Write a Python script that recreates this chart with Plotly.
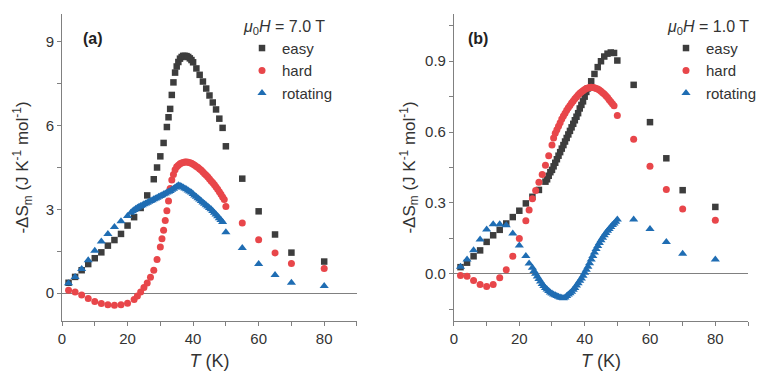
import plotly.graph_objects as go

# ---------------- data: panel (a), mu0H = 7.0 T ----------------
EASY_A_T = [2, 4, 6, 8, 10, 12, 14, 16, 18, 20,
            22, 24, 26, 28, 29, 30, 31, 32, 32.5, 33,
            33.5, 34, 34.5, 35, 35.5, 36, 36.5, 37, 37.5, 38,
            38.5, 39, 39.5, 40, 41, 42, 43, 44, 45, 46,
            47, 48, 49, 50, 55, 60, 65, 70, 80]
EASY_A = [0.37, 0.58, 0.82, 1.04, 1.25, 1.46, 1.70, 1.90, 2.12, 2.42,
          2.72, 3.05, 3.5, 4.08, 4.5, 4.9, 5.38, 5.95, 6.3, 6.6,
          7.1, 7.55, 7.9, 8.12, 8.28, 8.4, 8.46, 8.5, 8.5, 8.49,
          8.46, 8.41, 8.35, 8.27, 8.05, 7.82, 7.58, 7.33, 7.08, 6.83,
          6.58, 6.25, 5.92, 5.26, 4.1, 2.93, 2.1, 1.45, 1.13]

HARD_A_T = [2, 4, 6, 8, 10, 12, 14, 16, 18, 20,
            22, 23, 24, 25, 26, 27, 28, 29, 30, 30.5,
            31, 31.5, 32, 32.5, 33, 33.5, 34, 34.5, 35, 35.5,
            36, 36.5, 37, 37.5, 38, 38.5, 39, 39.5, 40, 40.5,
            41, 41.5, 42, 42.5, 43, 43.5, 44, 44.5, 45, 45.5,
            46, 46.5, 47, 47.5, 48, 48.5, 49, 49.5, 50, 55,
            60, 65, 70, 80]
HARD_A = [0.1, 0.04, -0.07, -0.19, -0.3, -0.37, -0.42, -0.44, -0.42, -0.36,
          -0.23, -0.1, 0.04, 0.2, 0.36, 0.57, 0.82, 1.2, 1.65, 1.95,
          2.25, 2.6, 2.95, 3.3, 3.75, 4.05, 4.25, 4.42, 4.53, 4.58,
          4.63, 4.66, 4.68, 4.7, 4.7, 4.69, 4.67, 4.65, 4.62, 4.58,
          4.54, 4.5, 4.45, 4.4, 4.34, 4.28, 4.22, 4.16, 4.09, 4.02,
          3.95, 3.88, 3.8, 3.72, 3.63, 3.54, 3.44, 3.35, 3.1, 2.51,
          1.91, 1.44, 1.06, 0.88]

ROT_A_T = [2, 4, 6, 8, 10, 12, 14, 16, 18, 20,
           21, 21.5, 22, 22.5, 23, 23.5, 24, 24.5, 25, 25.5,
           26, 26.5, 27, 27.5, 28, 28.5, 29, 29.5, 30, 30.5,
           31, 31.5, 32, 32.5, 33, 33.5, 34, 34.5, 35, 35.5,
           36, 36.5, 37, 37.5, 38, 38.5, 39, 39.5, 40, 40.5,
           41, 41.5, 42, 42.5, 43, 43.5, 44, 44.5, 45, 45.5,
           46, 46.5, 47, 47.5, 48, 48.5, 49, 50, 55, 60,
           65, 70, 80]
ROT_A = [0.35, 0.58, 0.86, 1.18, 1.52, 1.85, 2.12, 2.37, 2.57, 2.76,
         2.88, 2.93, 2.98, 3.02, 3.06, 3.09, 3.12, 3.15, 3.18, 3.21,
         3.24, 3.27, 3.3, 3.33, 3.36, 3.39, 3.42, 3.45, 3.48, 3.51,
         3.54, 3.57, 3.6, 3.63, 3.66, 3.7, 3.74, 3.78, 3.82, 3.86,
         3.85, 3.82, 3.78, 3.75, 3.72, 3.68, 3.64, 3.6, 3.55, 3.5,
         3.45, 3.4, 3.35, 3.3, 3.25, 3.2, 3.15, 3.1, 3.05, 3.0,
         2.94, 2.88, 2.82, 2.75, 2.68, 2.62, 2.55, 2.18, 1.62, 1.04,
         0.65, 0.37, 0.25]

# ---------------- data: panel (b), mu0H = 1.0 T ----------------
EASY_B_T = [2, 4, 6, 8, 10, 12, 14, 16, 18, 20,
            22, 24, 26, 28, 28.5, 29, 29.5, 30, 30.5, 31,
            31.5, 32, 32.5, 33, 33.5, 34, 34.5, 35, 35.5, 36,
            36.5, 37, 37.5, 38, 38.5, 39, 39.5, 40, 40.5, 41,
            42, 43, 44, 45, 46, 47, 48, 49, 50, 55,
            60, 65, 70, 80]
EASY_B = [0.028, 0.047, 0.074, 0.099, 0.135, 0.163, 0.186, 0.213, 0.24, 0.267,
          0.298, 0.326, 0.355, 0.39, 0.40, 0.415, 0.43, 0.44, 0.455, 0.47,
          0.485, 0.50, 0.515, 0.53, 0.545, 0.56, 0.575, 0.59, 0.605, 0.62,
          0.635, 0.65, 0.665, 0.68, 0.70, 0.715, 0.73, 0.75, 0.77, 0.785,
          0.815, 0.846, 0.875, 0.9, 0.92, 0.932, 0.937, 0.935, 0.903, 0.80,
          0.642, 0.489, 0.354, 0.283]

HARD_B_T = [2, 4, 6, 8, 10, 12, 14, 16, 18, 20,
            22, 23, 24, 25, 26, 27, 28, 29, 30, 30.5,
            31, 31.5, 32, 32.5, 33, 33.5, 34, 34.5, 35, 35.5,
            36, 36.5, 37, 37.5, 38, 38.5, 39, 39.5, 40, 40.5,
            41, 41.5, 42, 42.5, 43, 43.5, 44, 44.5, 45, 45.5,
            46, 46.5, 47, 47.5, 48, 48.5, 49, 50, 55, 60,
            65, 70, 80]
HARD_B = [-0.007, -0.011, -0.028, -0.045, -0.054, -0.045, -0.017, 0.017, 0.074, 0.149,
          0.224, 0.27, 0.318, 0.353, 0.388, 0.42, 0.46, 0.5, 0.545, 0.575,
          0.595, 0.61, 0.625, 0.64, 0.655, 0.668, 0.68, 0.692, 0.703, 0.713,
          0.723, 0.732, 0.741, 0.749, 0.757, 0.764, 0.77, 0.775, 0.78, 0.784,
          0.787, 0.789, 0.79, 0.789, 0.788, 0.785, 0.782, 0.778, 0.773, 0.767,
          0.761, 0.754, 0.746, 0.737, 0.728, 0.72, 0.712, 0.67, 0.57, 0.455,
          0.357, 0.274, 0.227]

ROT_B_T = [2, 4, 6, 8, 10, 12, 14, 16, 18, 20,
           22, 23, 24, 24.5, 25, 25.5, 26, 26.5, 27, 27.5,
           28, 28.5, 29, 29.5, 30, 30.5, 31, 31.5, 32, 32.5,
           33, 33.5, 34, 34.5, 35, 35.5, 36, 36.5, 37, 37.5,
           38, 38.5, 39, 39.5, 40, 40.5, 41, 41.5, 42, 42.5,
           43, 43.5, 44, 44.5, 45, 45.5, 46, 46.5, 47, 47.5,
           48, 48.5, 49, 49.5, 50, 55, 60, 65, 70, 80]
ROT_B = [0.03, 0.06, 0.10, 0.145, 0.187, 0.21, 0.21, 0.205, 0.17, 0.12,
         0.075, 0.043, 0.025, 0.012, 0.0, -0.012, -0.022, -0.033, -0.043, -0.052,
         -0.06, -0.067, -0.073, -0.079, -0.084, -0.088, -0.091, -0.094, -0.097, -0.1,
         -0.102, -0.104, -0.1, -0.094, -0.088, -0.082, -0.076, -0.068, -0.06, -0.05,
         -0.04, -0.03, -0.02, -0.008, 0.004, 0.017, 0.03, 0.045, 0.06, 0.075,
         0.09, 0.105, 0.118, 0.13, 0.142, 0.153, 0.163, 0.173, 0.182, 0.19,
         0.198, 0.206, 0.213, 0.22, 0.23, 0.23, 0.19, 0.135, 0.085, 0.06]

SERIES_NAMES = ["easy", "hard", "rotating"]
FIELD_LABELS = ["<i>μ</i><sub>0</sub><i>H</i> = 7.0 T", "<i>μ</i><sub>0</sub><i>H</i> = 1.0 T"]
PANEL_LABELS = ["(a)", "(b)"]

# ---------------- styling ----------------
COLORS = ["#3d3d3d", "#e8464a", "#1f6db3"]
SYMBOLS = ["square", "circle", "triangle-up"]
SIZES = [6.5, 7, 8]
FONT = "Liberation Sans, Arial, sans-serif"
AXC = "#808080"
TXT = "#333333"

fig = go.Figure()

panels = [
    [(EASY_A_T, EASY_A), (HARD_A_T, HARD_A), (ROT_A_T, ROT_A)],
    [(EASY_B_T, EASY_B), (HARD_B_T, HARD_B), (ROT_B_T, ROT_B)],
]
for p, series in enumerate(panels):
    xa = "x" if p == 0 else "x2"
    ya = "y" if p == 0 else "y2"
    lg = "legend" if p == 0 else "legend2"
    for s, (xs, ys) in enumerate(series):
        fig.add_trace(go.Scatter(
            x=xs, y=ys, mode="markers", name=SERIES_NAMES[s],
            xaxis=xa, yaxis=ya, legend=lg,
            marker=dict(symbol=SYMBOLS[s], size=SIZES[s], color=COLORS[s],
                        line=dict(width=0)),
        ))

W, H = 765, 375
ML, MR, MT, MB = 62, 17, 14, 54
PW, PH = W - ML - MR, H - MT - MB

def px_x(x):
    return (x - ML) / PW

def px_y(y):
    return 1 - (y - MT) / PH

def xaxis(domain, anchor):
    return dict(
        domain=domain, anchor=anchor, range=[0, 90], dtick=20, tick0=0,
        showgrid=False, zeroline=False, showline=True, linecolor=AXC, linewidth=1,
        ticks="outside", ticklen=4, tickcolor=AXC,
        minor=dict(dtick=10, ticks="outside", ticklen=4, tickcolor=AXC, showgrid=False),
        tickfont=dict(family=FONT, size=15, color=TXT),
        title=dict(text="<i>T</i> (K)", font=dict(family=FONT, size=18, color=TXT), standoff=8),
    )

def yaxis(anchor, rng, dt, fmt, standoff):
    return dict(
        domain=[0, 1], anchor=anchor, range=rng, dtick=dt, tick0=0,
        showgrid=False, zeroline=True, zerolinecolor=AXC, zerolinewidth=1,
        showline=True, linecolor=AXC, linewidth=1,
        ticks="outside", ticklen=4, tickcolor=AXC,
        minor=dict(dtick=dt / 2, ticks="outside", ticklen=4, tickcolor=AXC, showgrid=False),
        tickformat=fmt,
        tickfont=dict(family=FONT, size=15, color=TXT),
        title=dict(text="-ΔS<sub>m</sub> (J K<sup>-1</sup> mol<sup>-1</sup>)",
                   font=dict(family=FONT, size=17, color=TXT), standoff=standoff),
    )

def legend(xpix, anchor, title):
    return dict(
        xref="paper", yref="paper", x=px_x(xpix), y=px_y(11),
        xanchor=anchor, yanchor="top", bgcolor="rgba(0,0,0,0)",
        font=dict(family=FONT, size=15, color=TXT),
        title=dict(text=title, font=dict(family=FONT, size=16, color=TXT)),
        tracegroupgap=0,
    )

fig.update_layout(
    width=W, height=H,
    margin=dict(l=ML, r=MR, t=MT, b=MB, autoexpand=False),
    paper_bgcolor="white", plot_bgcolor="white",
    font=dict(family=FONT, color=TXT),
    xaxis=xaxis([0, 0.430], "y"),
    yaxis=yaxis("x", [-1, 10], 3, "d", 12),
    xaxis2=xaxis([0.5714, 1.0], "y2"),
    yaxis2=yaxis("x2", [-0.2, 1.1], 0.3, ".1f", 5),
    legend=legend(242, "left", FIELD_LABELS[0]),
    legend2=legend(666, "left", FIELD_LABELS[1]),
    showlegend=True,
)

for p, (xc, yc) in enumerate([(93, 38), (478, 38)]):
    fig.add_annotation(
        text="<b>" + PANEL_LABELS[p] + "</b>", xref="paper", yref="paper",
        x=px_x(xc), y=px_y(yc),
        xanchor="center", yanchor="middle", showarrow=False,
        font=dict(family=FONT, size=16, color="#222222"),
    )

fig.write_html(
    "out.html",
    config={"displayModeBar": False},
    post_script="document.body.style.margin='0px';document.body.style.overflow='hidden';",
)
